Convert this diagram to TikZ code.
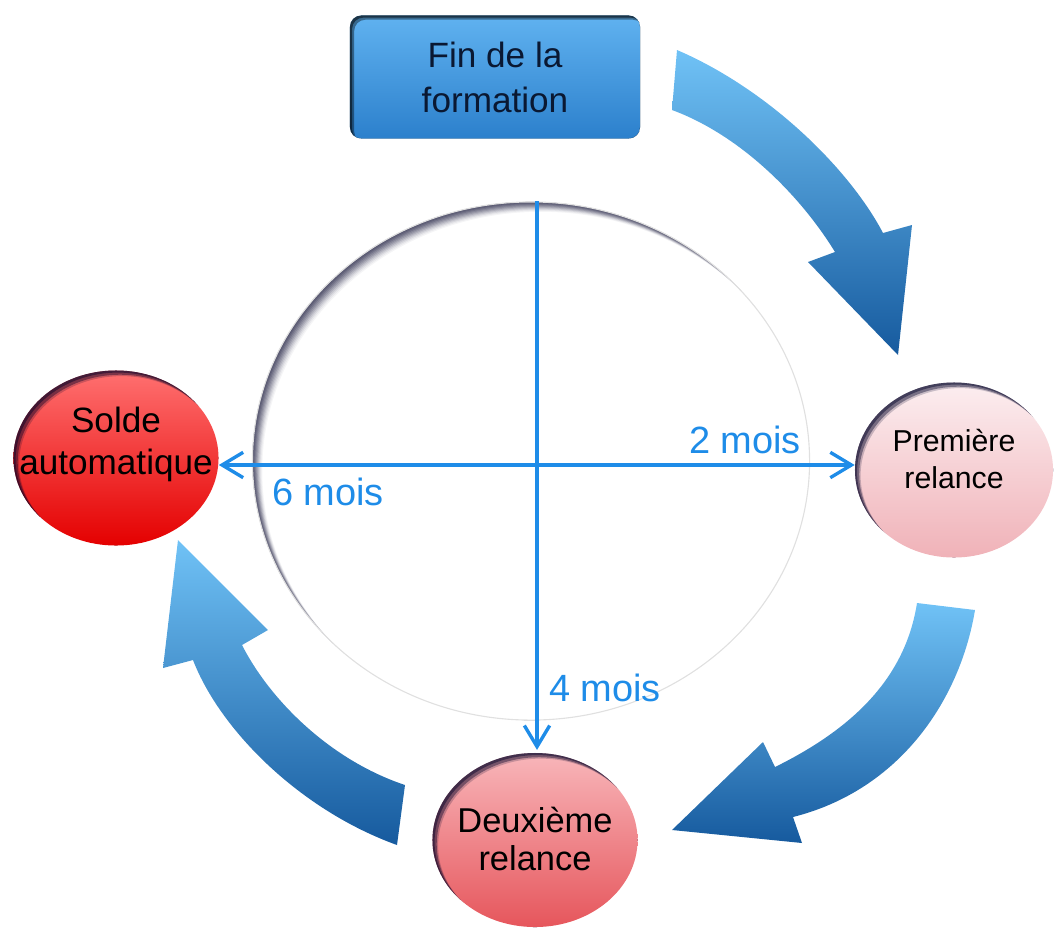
\documentclass[tikz,border=0pt]{standalone}
\usepackage{fontspec}
\setmainfont{Liberation Sans}
\usepackage{xcolor}
\usetikzlibrary{arrows.meta, calc, shapes.geometric}
\definecolor{boxtop}{RGB}{96,178,240}
\definecolor{boxbot}{RGB}{44,128,204}
\definecolor{boxtext}{RGB}{10,24,50}
\definecolor{bendtop}{RGB}{112,194,246}
\definecolor{bendbot}{RGB}{22,90,158}
\definecolor{axisblue}{RGB}{30,140,232}
\definecolor{soldetop}{RGB}{255,112,112}
\definecolor{soldebot}{RGB}{228,0,0}
\definecolor{premtop}{RGB}{252,238,240}
\definecolor{prembot}{RGB}{240,178,184}
\definecolor{deuxtop}{RGB}{248,182,186}
\definecolor{deuxbot}{RGB}{230,86,92}

\newcommand{\bubbletext}[2][0pt]{\raisebox{#1}[0pt][0pt]{\makebox[0pt]{\begin{tabular}[b]{@{}c@{}}#2\end{tabular}}}}

\tikzset{
    ovalshade/.style={path picture={
        \foreach \s/\o in {#1} {
            \fill[black!85!blue, opacity=\o, even odd rule]
                let \p1=(path picture bounding box.north east),
                    \p2=(path picture bounding box.center) in
                (path picture bounding box.south west) rectangle (path picture bounding box.north east)
                ($(\p2)+(\s pt,-\s pt)$) ellipse ({\x1-\x2} and {\y1-\y2});
        }}},
    boxshade/.style={path picture={
        \foreach \s/\o in {#1} {
            \fill[black, opacity=\o, even odd rule]
                (path picture bounding box.south west) rectangle (path picture bounding box.north east)
                [rounded corners=8pt]
                ($(path picture bounding box.south west)+(\s pt,-\s pt)$) rectangle
                ($(path picture bounding box.north east)+(\s pt,-\s pt)$);
        }}}
}

\begin{document}
\begin{tikzpicture}[x=0.025cm, y=-0.025cm,
    bubble/.style={ellipse, inner sep=0pt, text=black,
        font=\fontsize{25}{30}\selectfont, ovalshade={1.5/.45,3/.4,4/.2}},
    startbox/.style={rectangle, rounded corners=8pt, inner sep=0pt, align=center,
        top color=boxtop, bottom color=boxbot, text=boxtext,
        minimum width=7.25cm, minimum height=3.075cm,
        font=\fontsize{25}{32}\selectfont, boxshade={1.5/.5,3/.4}},
    blockarrow/.style={top color=bendtop, bottom color=bendbot},
    axis/.style={draw=axisblue, line width=2.4pt,
        >={Straight Barb[length=15pt, width=18pt]}},
    months/.style={text=axisblue, font=\fontsize{27}{30}\selectfont, inner sep=0pt}
]
\useasboundingbox (0,0) rectangle (1056,929);

\node[ellipse, draw=black!12, line width=0.8pt, minimum width=13.925cm, minimum height=12.95cm,
    ovalshade={0.7/.14,1.4/.14,2.1/.14,2.8/.13,3.5/.12,4.2/.11,4.9/.09,5.6/.07,6.3/.05,7/.04}]
    (ring) at (531,461) {};

\node[startbox] (fin) at (495,77) {Fin de la\\formation};
\node[bubble, top color=soldetop, bottom color=soldebot,
    minimum width=5.125cm, minimum height=4.375cm] (solde) at (116,458)
    {\bubbletext[-12pt]{Solde\\automatique}};
\node[bubble, top color=premtop, bottom color=prembot,
    minimum width=4.95cm, minimum height=4.375cm,
    font=\fontsize{21.5}{26}\selectfont] (premiere) at (954,470)
    {\bubbletext[-12.8pt]{Première\\relance}};
\node[bubble, top color=deuxtop, bottom color=deuxbot,
    minimum width=5.125cm, minimum height=4.35cm,
    font=\fontsize{24.5}{27.5}\selectfont] (deux) at (535,840)
    {\bubbletext[-22pt]{Deuxième\\relance}};

\coordinate (mid) at (537,465);
\draw[axis, <->] (solde.east |- mid) -- (premiere.west |- mid);
\draw[axis, ->] (ring.north -| mid) -- ([yshift=2pt]deux.north -| mid);

\node[months] (two) at (745,440) {2 mois};
\node[months] (six) at (328,492) {6 mois};
\node[months] (four) at (605,688) {4 mois};

\shade[blockarrow] (677,50) .. controls (770,90) and (850,170) .. (883,233)
    -- (912,225) -- (898,355) -- (808,262) -- (835,252)
    .. controls (800,195) and (740,135) .. (672,110) -- cycle;
\shade[blockarrow] (975,610) .. controls (960,700) and (900,790) .. (793,817)
    -- (802,843) -- (672,830) -- (763,742) -- (775,767)
    .. controls (850,730) and (905,680) .. (917,603) -- cycle;
\shade[blockarrow] (178,540) -- (268,630) -- (242,645)
    .. controls (270,700) and (330,760) .. (405,785)
    -- (397,845) .. controls (300,810) and (220,730) .. (193,660)
    -- (163,668) -- cycle;
\end{tikzpicture}
\end{document}
